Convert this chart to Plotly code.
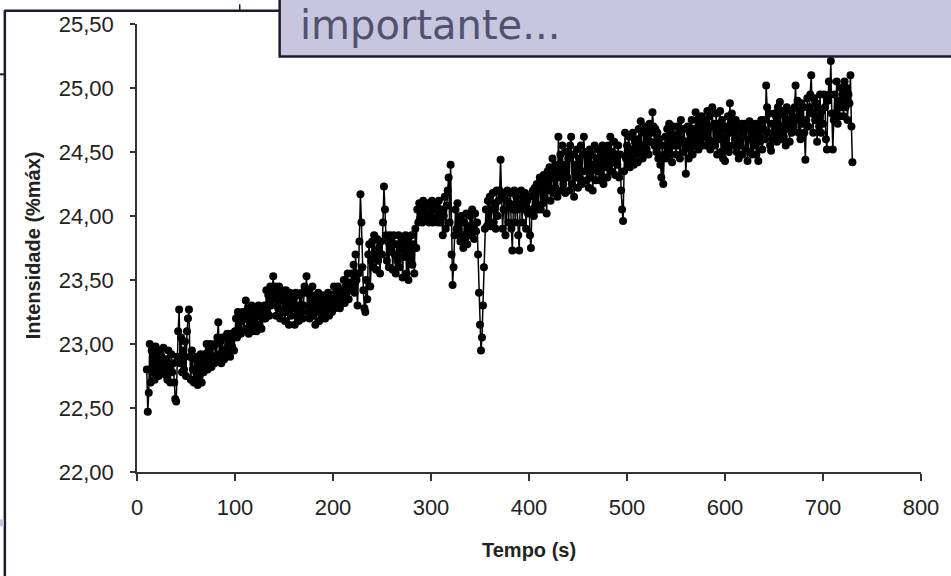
import plotly.graph_objects as go

# ---- data ----
tempo_s = list(range(10, 731))  # one reading per second

intensidade = [
    22.80, 22.47, 22.62, 23.00, 22.70, 22.95, 22.78, 22.90, 22.72, 22.98,  # 10
    22.80, 22.92, 22.75, 22.95, 22.82, 22.90, 22.78, 22.97, 22.85, 22.76,  # 20
    22.88, 22.72, 22.95, 22.80, 22.70, 22.92, 22.78, 22.85, 22.70, 22.57,  # 30
    22.55, 22.90, 23.10, 23.27, 22.85, 23.05, 22.78, 22.95, 22.80, 23.02,  # 40
    22.75, 23.10, 23.20, 23.27, 22.90, 22.72, 22.95, 22.80, 22.70, 22.88,  # 50
    22.72, 22.90, 22.68, 22.85, 22.75, 22.92, 22.70, 22.88, 22.78, 22.92,  # 60
    22.85, 23.00, 22.80, 22.95, 22.88, 23.00, 22.82, 22.98, 22.90, 22.85,  # 70
    23.00, 22.88, 23.05, 23.17, 22.92, 23.02, 22.85, 23.05, 22.95, 22.88,  # 80
    23.05, 22.92, 23.08, 22.95, 23.02, 22.90, 23.08, 22.98, 23.05, 22.95,  # 90
    23.10, 23.20, 23.05, 23.25, 23.12, 23.22, 23.08, 23.18, 23.25, 23.10,  # 100
    23.20, 23.34, 23.12, 23.28, 23.08, 23.22, 23.15, 23.30, 23.10, 23.25,  # 110
    23.15, 23.28, 23.10, 23.22, 23.30, 23.15, 23.25, 23.12, 23.28, 23.20,  # 120
    23.30, 23.20, 23.42, 23.25, 23.38, 23.22, 23.45, 23.30, 23.40, 23.53,  # 130
    23.35, 23.45, 23.22, 23.40, 23.28, 23.45, 23.20, 23.35, 23.42, 23.25,  # 140
    23.38, 23.18, 23.42, 23.25, 23.35, 23.15, 23.40, 23.22, 23.32, 23.28,  # 150
    23.35, 23.15, 23.40, 23.22, 23.30, 23.18, 23.38, 23.25, 23.40, 23.20,  # 160
    23.30, 23.45, 23.40, 23.53, 23.25, 23.42, 23.20, 23.38, 23.28, 23.45,  # 170
    23.22, 23.35, 23.15, 23.38, 23.25, 23.40, 23.18, 23.32, 23.20, 23.35,  # 180
    23.25, 23.38, 23.20, 23.35, 23.28, 23.40, 23.22, 23.36, 23.30, 23.25,  # 190
    23.32, 23.45, 23.28, 23.40, 23.30, 23.45, 23.35, 23.28, 23.42, 23.35,  # 200
    23.38, 23.50, 23.32, 23.45, 23.40, 23.55, 23.35, 23.48, 23.42, 23.55,  # 210
    23.45, 23.62, 23.40, 23.70, 23.50, 23.30, 23.55, 23.80, 24.17, 23.95,  # 220
    23.60, 23.42, 23.28, 23.25, 23.50, 23.35, 23.70, 23.78, 23.45, 23.65,  # 230
    23.80, 23.60, 23.85, 23.70, 23.58, 23.82, 23.65, 23.75, 23.55, 23.80,  # 240
    23.70, 23.95, 24.23, 24.05, 23.85, 23.65, 23.80, 23.60, 23.85, 23.72,  # 250
    23.80, 23.58, 23.85, 23.70, 23.55, 23.78, 23.65, 23.85, 23.60, 23.75,  # 260
    23.82, 23.52, 23.78, 23.68, 23.85, 23.55, 23.80, 23.50, 23.75, 23.65,  # 270
    23.85, 23.62, 23.78, 23.55, 23.90, 23.75, 24.05, 23.95, 24.10, 23.98,  # 280
    24.05, 23.95, 24.12, 24.00, 24.08, 23.96, 24.10, 24.02, 23.95, 24.08,  # 290
    24.00, 24.12, 23.95, 24.05, 24.10, 23.98, 24.08, 23.95, 24.12, 24.02,  # 300
    23.95, 24.05, 23.85, 24.00, 24.15, 23.90, 24.08, 24.20, 24.30, 23.95,  # 310
    24.40, 23.70, 23.46, 23.60, 23.85, 24.05, 23.90, 24.10, 23.85, 23.98,  # 320
    23.80, 24.00, 23.85, 23.75, 23.95, 23.82, 24.02, 23.78, 23.92, 23.85,  # 330
    24.00, 23.85, 24.05, 23.90, 23.82, 24.02, 23.88, 23.95, 23.70, 23.40,  # 340
    23.15, 22.95, 23.05, 23.30, 23.60, 23.90, 24.05, 23.92, 24.12, 23.95,  # 350
    24.15, 23.92, 24.05, 24.18, 23.95, 24.10, 23.90, 24.20, 24.00, 24.12,  # 360
    24.20, 24.44, 24.15, 23.90, 24.05, 24.18, 23.85, 24.12, 24.20, 23.95,  # 370
    24.10, 24.18, 23.90, 23.73, 24.05, 24.20, 23.95, 24.15, 24.05, 23.85,  # 380
    23.73, 24.10, 24.20, 23.95, 24.15, 24.05, 24.18, 23.90, 24.12, 24.02,  # 390
    24.15, 23.85, 23.75, 24.05, 24.20, 24.00, 24.22, 24.08, 24.25, 24.05,  # 400
    24.20, 24.30, 24.05, 24.25, 24.10, 24.32, 24.15, 24.28, 24.02, 24.35,  # 410
    24.20, 24.38, 24.12, 24.30, 24.45, 24.18, 24.35, 24.22, 24.40, 24.15,  # 420
    24.62, 24.30, 24.48, 24.20, 24.55, 24.25, 24.40, 24.18, 24.50, 24.30,  # 430
    24.45, 24.20, 24.55, 24.62, 24.25, 24.48, 24.15, 24.40, 24.30, 24.52,  # 440
    24.22, 24.45, 24.30, 24.55, 24.25, 24.48, 24.62, 24.35, 24.50, 24.28,  # 450
    24.45, 24.22, 24.52, 24.30, 24.48, 24.20, 24.40, 24.55, 24.28, 24.45,  # 460
    24.35, 24.52, 24.28, 24.48, 24.32, 24.55, 24.25, 24.45, 24.38, 24.50,  # 470
    24.30, 24.55, 24.40, 24.62, 24.35, 24.50, 24.42, 24.58, 24.32, 24.48,  # 480
    24.40, 24.55, 24.30, 24.48, 24.20, 24.05, 23.96, 24.35, 24.65, 24.45,  # 490
    24.55, 24.40, 24.62, 24.38, 24.52, 24.45, 24.65, 24.40, 24.58, 24.48,  # 500
    24.60, 24.42, 24.68, 24.50, 24.74, 24.55, 24.45, 24.65, 24.50, 24.70,  # 510
    24.52, 24.68, 24.48, 24.72, 24.58, 24.65, 24.81, 24.70, 24.55, 24.68,  # 520
    24.50, 24.65, 24.45, 24.60, 24.40, 24.30, 24.55, 24.25, 24.48, 24.62,  # 530
    24.45, 24.68, 24.52, 24.72, 24.48, 24.65, 24.42, 24.70, 24.55, 24.62,  # 540
    24.48, 24.70, 24.55, 24.65, 24.45, 24.75, 24.60, 24.50, 24.68, 24.58,  # 550
    24.33, 24.55, 24.70, 24.45, 24.65, 24.52, 24.75, 24.48, 24.68, 24.55,  # 560
    24.81, 24.60, 24.75, 24.52, 24.70, 24.58, 24.78, 24.55, 24.72, 24.62,  # 570
    24.75, 24.55, 24.82, 24.60, 24.78, 24.52, 24.70, 24.85, 24.58, 24.72,  # 580
    24.55, 24.80, 24.48, 24.72, 24.60, 24.82, 24.50, 24.75, 24.45, 24.68,  # 590
    24.43, 24.70, 24.55, 24.78, 24.50, 24.88, 24.65, 24.80, 24.55, 24.72,  # 600
    24.60, 24.75, 24.50, 24.70, 24.45, 24.68, 24.55, 24.72, 24.48, 24.65,  # 610
    24.72, 24.52, 24.68, 24.43, 24.60, 24.74, 24.50, 24.65, 24.48, 24.70,  # 620
    24.55, 24.72, 24.48, 24.65, 24.43, 24.70, 24.58, 24.75, 24.52, 24.68,  # 630
    24.75, 24.60, 25.02, 24.85, 24.65, 24.80, 24.55, 24.51, 24.72, 24.60,  # 640
    24.80, 24.62, 24.78, 24.58, 24.85, 24.65, 24.89, 24.70, 24.60, 24.82,  # 650
    24.62, 24.78, 24.55, 24.85, 24.68, 24.75, 24.58, 24.82, 24.65, 24.78,  # 660
    24.70, 24.85, 25.02, 24.75, 24.90, 24.65, 24.82, 24.60, 24.88, 24.72,  # 670
    24.85, 24.65, 24.44, 24.75, 24.92, 24.70, 24.85, 24.95, 25.10, 24.80,  # 680
    24.65, 24.92, 24.75, 24.88, 24.58, 24.85, 24.70, 24.95, 24.65, 24.82,  # 690
    24.72, 24.95, 24.85, 24.60, 24.52, 24.90, 25.05, 24.95, 25.21, 24.80,  # 700
    24.52, 24.75, 24.95, 24.80, 25.05, 24.72, 24.90, 24.78, 25.00, 24.85,  # 710
    24.95, 24.78, 25.05, 24.85, 25.00, 24.75, 24.95, 24.88, 25.10, 24.70,  # 720
    24.42,                                                                  # 730
]

x_ticks = [0, 100, 200, 300, 400, 500, 600, 700, 800]
y_ticks = [22.0, 22.5, 23.0, 23.5, 24.0, 24.5, 25.0, 25.5]

# ---- geometry of the plot area (pixels) ----
W, H = 951, 576
L, R, T, B = 137, 923, 18, 472


def px(xp):
    return (xp - L) / (R - L)


def py(yp):
    return (B - yp) / (B - T)


fig = go.Figure()
fig.add_trace(go.Scatter(
    x=tempo_s, y=intensidade, mode="lines+markers",
    line=dict(color="black", width=1.5),
    marker=dict(color="black", size=8),
    showlegend=False, hoverinfo="skip",
))

axis_font = dict(family="Liberation Sans, Arial, sans-serif", size=22, color="#222222")

fig.update_layout(
    width=W, height=H,
    margin=dict(l=L, r=W - R, t=T, b=H - B, pad=0),
    paper_bgcolor="white", plot_bgcolor="white",
    separators=",.",
    font=axis_font,
    xaxis=dict(range=[0, 800], tickvals=x_ticks, showgrid=False, zeroline=False,
               showline=True, linecolor="#333333", linewidth=1.5,
               ticks="outside", ticklen=7, tickwidth=1.5, tickcolor="#333333",
               tickfont=axis_font, ticklabelstandoff=8),
    yaxis=dict(range=[22, 25.5], tickvals=y_ticks, tickformat=".2f",
               showgrid=False, zeroline=False,
               showline=True, linecolor="#333333", linewidth=1.5,
               ticks="outside", ticklen=5, tickwidth=1.5, tickcolor="#333333",
               tickfont=axis_font, ticklabelstandoff=12),
)

title_font = dict(family="Liberation Sans, Arial, sans-serif", size=20, color="#222222")
fig.add_annotation(text="<b>Tempo (s)</b>", xref="paper", yref="paper",
                   x=px(530), y=py(551), xanchor="center", yanchor="middle",
                   showarrow=False, font=title_font)
fig.add_annotation(text="<b>Intensidade (%máx)</b>", xref="paper", yref="paper",
                   x=px(33), y=py(242), xanchor="center", yanchor="middle",
                   textangle=-90, showarrow=False, font=title_font)

# ---- slide decorations around the chart ----
navy = "#1c1c2c"
shapes = [
    # lavender call-out box
    dict(type="rect", xref="paper", yref="paper",
         x0=px(280), x1=px(960), y0=py(51), y1=py(-10),
         fillcolor="#c6c6de", line=dict(color=navy, width=2.5), layer="above"),
    # frame lines of the slide
    dict(type="line", xref="paper", yref="paper",
         x0=px(4.5), x1=px(4.5), y0=py(4), y1=py(580), line=dict(color=navy, width=2.5)),
    dict(type="line", xref="paper", yref="paper",
         x0=px(4), x1=px(280), y0=py(4.5), y1=py(4.5), line=dict(color=navy, width=2.5)),
    dict(type="line", xref="paper", yref="paper",
         x0=px(240), x1=px(240), y0=py(-2), y1=py(4.5), line=dict(color=navy, width=1.5)),
    dict(type="line", xref="paper", yref="paper",
         x0=px(-2), x1=px(4), y0=py(69), y1=py(69), line=dict(color=navy, width=2)),
    dict(type="rect", xref="paper", yref="paper",
         x0=px(-2), x1=px(3.5), y0=py(520), y1=py(527),
         fillcolor="#c6c6de", line=dict(width=0)),
]
fig.update_layout(shapes=shapes)

fig.add_annotation(text="importante...", xref="paper", yref="paper",
                   x=px(298), y=py(19), xanchor="left", yanchor="middle",
                   showarrow=False,
                   font=dict(family="DejaVu Sans, Verdana, sans-serif", size=40, color="#525270"))

fig.write_html("out.html")
